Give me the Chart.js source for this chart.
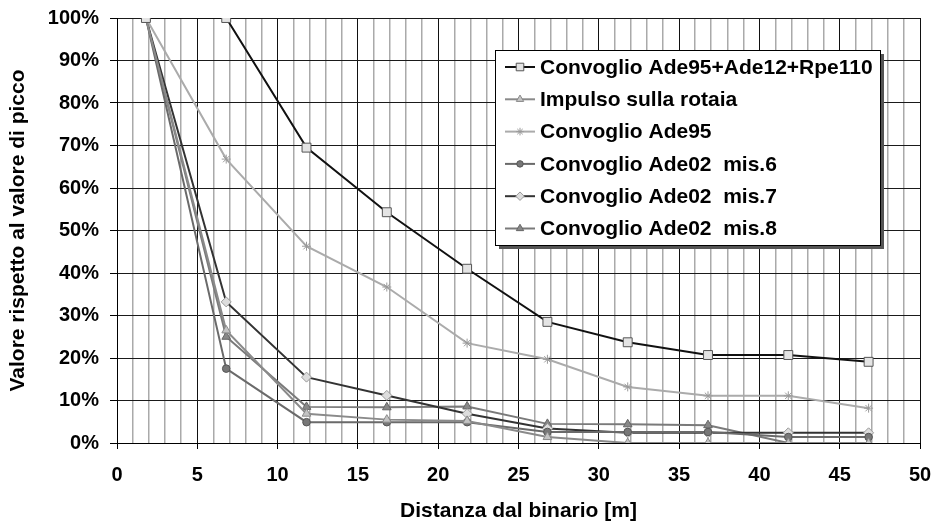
<!DOCTYPE html>
<html>
<head>
<meta charset="utf-8">
<script src="https://cdn.jsdelivr.net/npm/chart.js@4/dist/chart.umd.min.js"></script>
<style>
  html, body { margin: 0; padding: 0; background: #fff; }
  #wrap { width: 935px; height: 522px; }
</style>
</head>
<body>
<div id="wrap"><canvas id="c" width="935" height="522"></canvas></div>
<script>
// Distanze di misura dal binario [m]
const distances = [1.8, 6.8, 11.8, 16.8, 21.8, 26.8, 31.8, 36.8, 41.8, 46.8];

// Valori normalizzati rispetto al picco [%]
const convoglioMisto = [100, 100, 69.5, 54.3, 41.0, 28.5, 23.7, 20.7, 20.7, 19.1];
const impulsoRotaia  = [100, 26.5, 6.9, 5.5, 5.2, 1.4, 0, 0, 0, 0];
const convoglioAde95 = [100, 66.8, 46.3, 36.7, 23.5, 19.7, 13.2, 11.1, 11.1, 8.2];
const ade02Mis6      = [100, 17.5, 4.9, 4.9, 4.9, 2.6, 2.6, 2.6, 1.4, 1.4];
const ade02Mis7      = [100, 33.2, 15.5, 11.2, 6.9, 3.4, 2.4, 2.4, 2.4, 2.4];
const ade02Mis8      = [100, 25.0, 8.5, 8.4, 8.6, 4.5, 4.4, 4.2, 0, 0];

const seriesNames = [
  'Convoglio Ade95+Ade12+Rpe110',
  'Impulso sulla rotaia',
  'Convoglio Ade95',
  'Convoglio Ade02  mis.6',
  'Convoglio Ade02  mis.7',
  'Convoglio Ade02  mis.8'
];

// y-axis ticks (percent)
const yTickValues = [0, 10, 20, 30, 40, 50, 60, 70, 80, 90, 100];

const FONT = '"Liberation Sans", Arial, sans-serif';

function toPoints(values) {
  return values.map((v, i) => ({ x: distances[i], y: v }));
}

const styles = [
  { line: '#111111', fill: '#e4e4e4', border: '#555555', point: 'rect',     radius: 6.3, width: 2 },
  { line: '#8a8a8a', fill: '#c4c4c4', border: '#8a8a8a', point: 'triangle', radius: 5,   width: 2 },
  { line: '#ababab', fill: '#9a9a9a', border: '#9a9a9a', point: 'star',     radius: 4.5, width: 2 },
  { line: '#6a6a6a', fill: '#777777', border: '#555555', point: 'circle',   radius: 3.8, width: 2 },
  { line: '#333333', fill: '#dddddd', border: '#999999', point: 'rectRot',  radius: 5,   width: 2 },
  { line: '#7a7a7a', fill: '#888888', border: '#666666', point: 'triangle', radius: 5,   width: 2 }
];

const seriesValues = [convoglioMisto, impulsoRotaia, convoglioAde95, ade02Mis6, ade02Mis7, ade02Mis8];

const datasets = seriesValues.map((vals, i) => ({
  label: seriesNames[i],
  data: toPoints(vals),
  borderColor: styles[i].line,
  borderWidth: styles[i].width,
  pointStyle: styles[i].point,
  pointRadius: styles[i].radius,
  pointBackgroundColor: styles[i].fill,
  pointBorderColor: styles[i].border,
  pointBorderWidth: 1,
  tension: 0,
  fill: false
}));

// Legend box drawn inside the plot area
function drawMarker(ctx, style, x, y) {
  ctx.save();
  ctx.fillStyle = style.fill;
  ctx.strokeStyle = style.border;
  ctx.lineWidth = 1;
  const r = style.radius;
  ctx.beginPath();
  if (style.point === 'rect') {
    const s = r * Math.SQRT1_2;
    ctx.rect(x - s, y - s, 2 * s, 2 * s);
    ctx.fill(); ctx.stroke();
  } else if (style.point === 'triangle') {
    ctx.moveTo(x, y - r);
    ctx.lineTo(x + r * 0.866, y + r * 0.5);
    ctx.lineTo(x - r * 0.866, y + r * 0.5);
    ctx.closePath();
    ctx.fill(); ctx.stroke();
  } else if (style.point === 'circle') {
    ctx.arc(x, y, r, 0, Math.PI * 2);
    ctx.fill(); ctx.stroke();
  } else if (style.point === 'rectRot') {
    ctx.moveTo(x, y - r); ctx.lineTo(x + r, y); ctx.lineTo(x, y + r); ctx.lineTo(x - r, y);
    ctx.closePath();
    ctx.fill(); ctx.stroke();
  } else if (style.point === 'star') {
    for (let k = 0; k < 4; k++) {
      const a = k * Math.PI / 4;
      ctx.moveTo(x - Math.cos(a) * r, y - Math.sin(a) * r);
      ctx.lineTo(x + Math.cos(a) * r, y + Math.sin(a) * r);
    }
    ctx.stroke();
  }
  ctx.restore();
}

const boxLegend = {
  id: 'boxLegend',
  afterDraw(chart) {
    const ctx = chart.ctx;
    const bx = 495, by = 50, bw = 385, bh = 195;
    ctx.save();
    ctx.fillStyle = '#555555';
    ctx.fillRect(bx + 4, by + 4, bw, bh);
    ctx.fillStyle = '#ffffff';
    ctx.fillRect(bx, by, bw, bh);
    ctx.strokeStyle = '#000000';
    ctx.lineWidth = 1;
    ctx.strokeRect(bx + 0.5, by + 0.5, bw, bh);
    ctx.font = 'bold 21px ' + FONT;
    ctx.textBaseline = 'middle';
    ctx.textAlign = 'left';
    chart.data.datasets.forEach((ds, i) => {
      const y = 67 + i * 32.3;
      const st = styles[i];
      ctx.strokeStyle = st.line;
      ctx.lineWidth = st.width;
      ctx.beginPath();
      ctx.moveTo(505, y); ctx.lineTo(535, y);
      ctx.stroke();
      drawMarker(ctx, Object.assign({}, st, { radius: st.radius * 0.85 }), 520, y);
      ctx.fillStyle = '#000000';
      ctx.fillText(ds.label, 540, y + 1);
    });
    ctx.restore();
  }
};

// keep the plot area fixed: no extra room for overhanging tick labels
function noScalePadding(scale) {
  scale.paddingLeft = 0;
  scale.paddingRight = 0;
  scale.paddingTop = 0;
  scale.paddingBottom = 0;
}

new Chart(document.getElementById('c'), {
  type: 'line',
  data: { datasets },
  options: {
    responsive: false,
    animation: false,
    layout: { padding: { left: 0, top: 18, right: 15, bottom: 0 } },
    plugins: {
      legend: { display: false },
      tooltip: { enabled: false }
    },
    scales: {
      x: {
        type: 'linear',
        min: 0,
        max: 50,
        afterFit(scale) { scale.height = 79; noScalePadding(scale); },
        afterBuildTicks(scale) {
          const t = [];
          for (let v = 0; v <= 50; v++) t.push({ value: v });
          scale.ticks = t;
        },
        border: { color: '#000000', width: 1 },
        grid: {
          color: c => (c.tick && c.tick.value % 5 === 0) ? '#111111' : '#aaaaaa',
          lineWidth: c => (c.tick && c.tick.value % 5 === 0) ? 1 : 1.5,
          tickColor: c => (c.tick && c.tick.value % 5 === 0) ? '#000000' : 'rgba(0,0,0,0)',
          tickLength: 6,
          drawTicks: true
        },
        ticks: {
          autoSkip: false,
          maxRotation: 0,
          padding: 14,
          color: '#000000',
          font: { family: FONT, size: 20, weight: 'bold' },
          callback: v => (v % 5 === 0 ? String(v) : '')
        },
        title: {
          display: true,
          text: 'Distanza dal binario [m]',
          color: '#000000',
          font: { family: FONT, size: 21, weight: 'bold', lineHeight: 1.0 },
          padding: { top: 0, bottom: 0 }
        }
      },
      y: {
        min: 0,
        max: 100,
        afterFit(scale) { scale.width = 117; noScalePadding(scale); },
        afterBuildTicks(scale) {
          scale.ticks = yTickValues.map(v => ({ value: v }));
        },
        border: { color: '#000000', width: 1 },
        grid: {
          color: '#1a1a1a',
          lineWidth: 1,
          tickColor: '#000000',
          tickLength: 7
        },
        ticks: {
          padding: 11,
          color: '#000000',
          font: { family: FONT, size: 20, weight: 'bold' },
          callback: v => v + '%'
        },
        title: {
          display: true,
          text: 'Valore rispetto al valore di picco',
          color: '#000000',
          font: { family: FONT, size: 21, weight: 'bold' },
          padding: { top: 6, bottom: 0 }
        }
      }
    }
  },
  plugins: [boxLegend]
});
</script>
</body>
</html>
